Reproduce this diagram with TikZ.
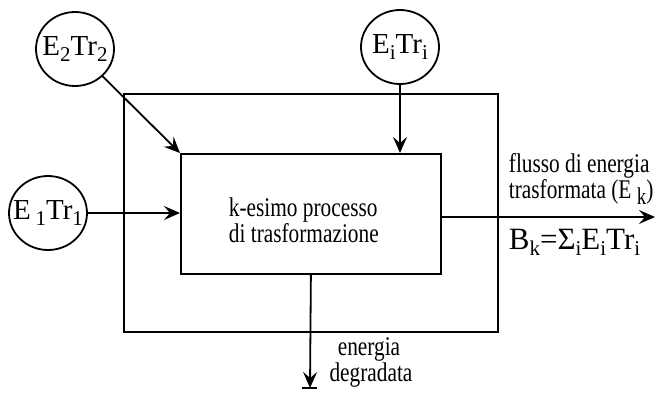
\documentclass[tikz,border=0pt]{standalone}
\usepackage{fontspec}
\setmainfont{Liberation Serif}
\newfontfamily\condfont{Liberation Serif}[FakeStretch=0.79]
\usetikzlibrary{arrows.meta,shapes.geometric}
\newcommand{\lsub}[2][6pt]{\raisebox{-#1}{\fontsize{21}{21}\selectfont #2}}
\newcommand{\zw}[1]{\makebox[0pt]{#1}}
\tikzset{
  bubble/.style={draw, ellipse, minimum width=78pt, minimum height=74pt, inner sep=0pt,
    font=\fontsize{29}{29}\selectfont},
  boxnode/.style={draw, anchor=north west, inner sep=0pt},
  txt/.style={font=\condfont\fontsize{27}{27}\selectfont, inner sep=0pt, anchor=base west},
  ctxt/.style={font=\condfont\fontsize{27}{27}\selectfont, inner sep=0pt, anchor=base},
  flow/.style={-{Stealth[length=16pt,width=14pt,inset=6pt]}},
}
\begin{document}
\begin{tikzpicture}[x=1pt,y=-1pt,line width=1.8pt]
\useasboundingbox (0,0) rectangle (657,394);
% boxes
\node[boxnode, minimum width=374pt, minimum height=238pt] (outer) at (123,93) {};
\node[boxnode, minimum width=260pt, minimum height=120pt] (inner) at (180,153) {};
% circles
\node[bubble] (e2) at (75,49) {\zw{E\lsub{2}Tr\lsub{2}}};
\node[bubble] (ei) at (400,47) {\zw{E\lsub{i}Tr\lsub{i}}};
\node[bubble] (e1) at (48,213) {\zw{E\,\lsub{1}Tr\lsub{1}}};
% inner text
\node[txt] (t1) at (228,216) {k-esimo processo};
\node[txt] (t2) at (228,242) {di trasformazione};
% inputs
\draw[flow] (e2) -- (inner.north west);
\draw[flow] (ei.south) -- (ei.south |- inner.north);
\draw[flow] (e1) -- (e1 -| inner.west);
% output
\coordinate (ob) at (655,217);
\draw[flow] (inner.east |- ob) -- (ob);
\node[txt] (f1) at (508,172) {flusso di energia};
\node[txt] (f2) at (508,198) {trasformata (E \raisebox{-6pt}{\fontsize{24}{24}\selectfont k})};
\node[txt, font=\fontsize{31}{31}\selectfont] (bk) at (508,249) {B\lsub{k}=Σ\lsub{i}E\lsub{i}Tr\lsub{i}};
% degraded energy
\coordinate (gnd) at (310,388);
\draw[flow] (inner.south) -- (gnd);
\draw ([xshift=-8pt]gnd) -- ([xshift=7pt]gnd);
\node[ctxt] (d1) at (369,355) {energia};
\node[ctxt] (d2) at (371,381) {degradata};
\end{tikzpicture}
\end{document}
